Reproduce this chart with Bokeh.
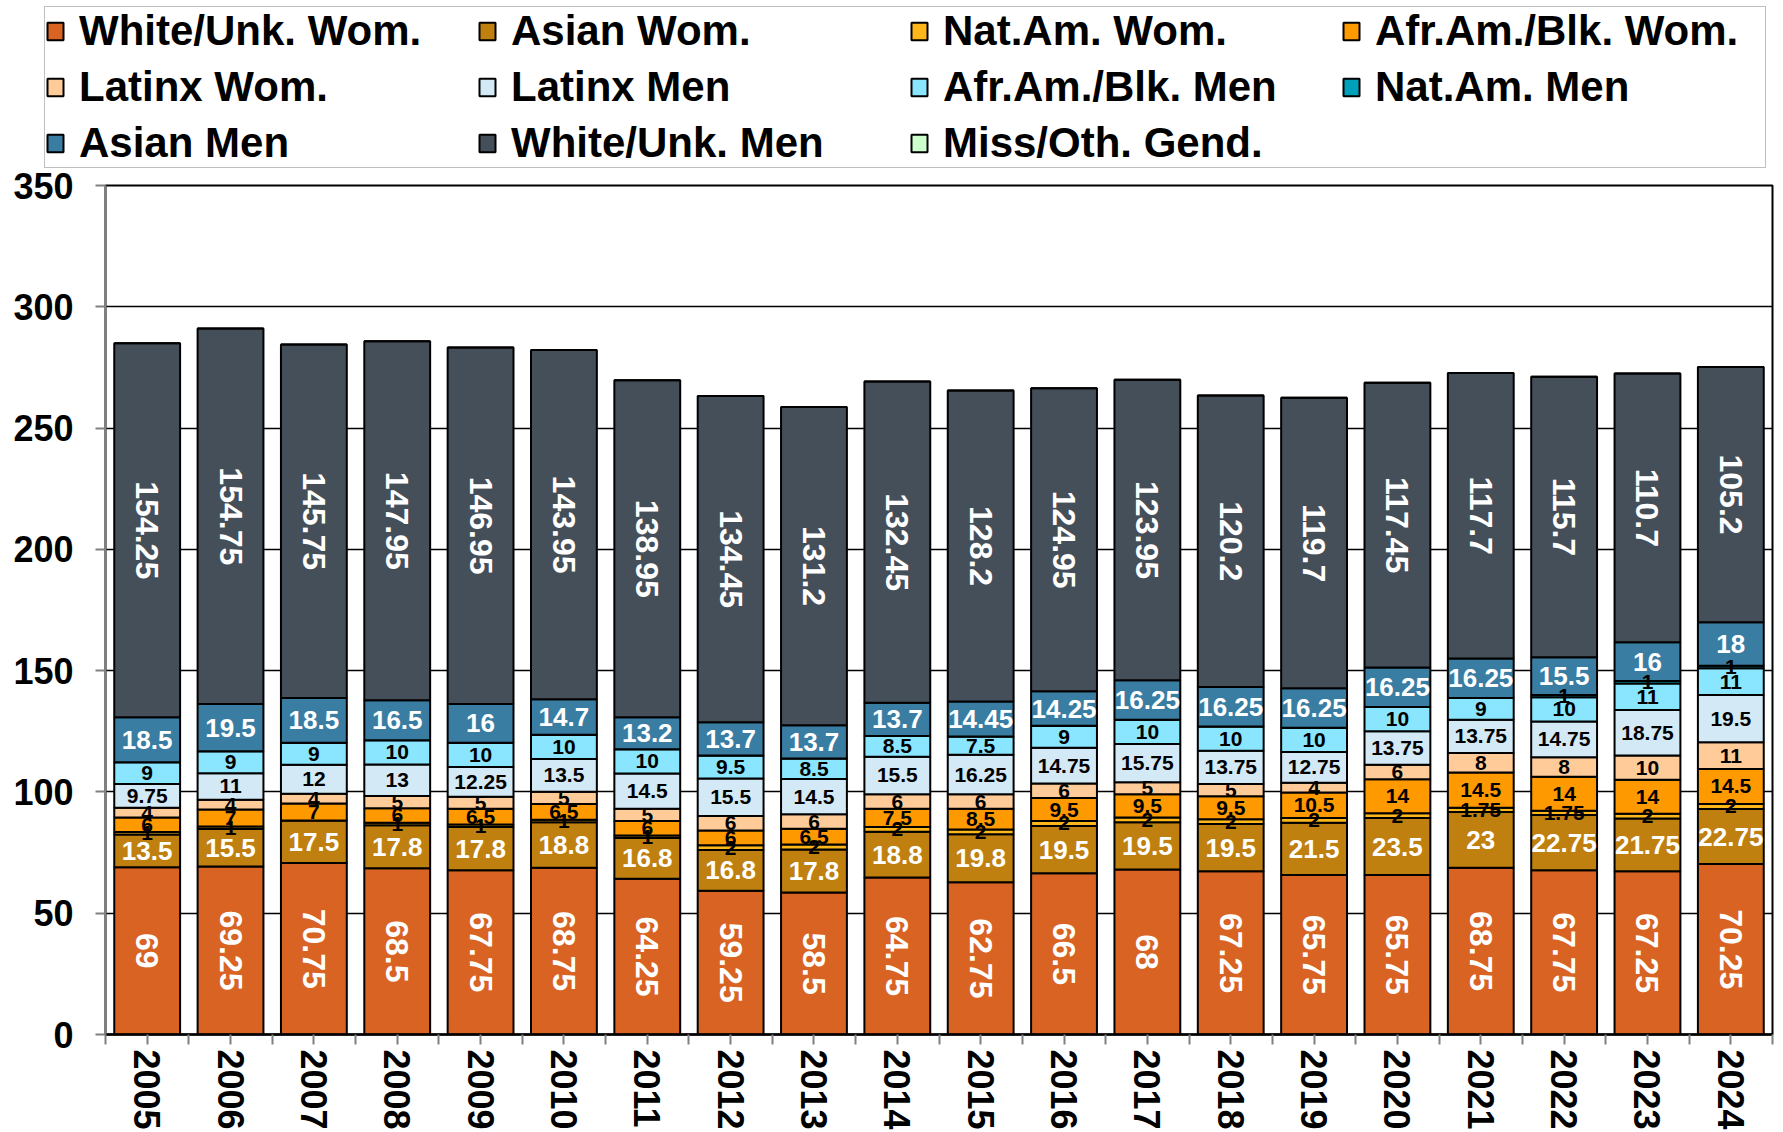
import math
from bokeh.plotting import figure
from bokeh.layouts import column
from bokeh.models import ColumnDataSource, Legend, LegendItem, FixedTicker, Range1d
from bokeh.core.properties import value
from bokeh.embed import file_html
from bokeh.resources import INLINE

years = [str(y) for y in range(2005, 2025)]
white_wom = [69, 69.25, 70.75, 68.5, 67.75, 68.75, 64.25, 59.25, 58.5, 64.75, 62.75, 66.5, 68, 67.25, 65.75, 65.75, 68.75, 67.75, 67.25, 70.25]
asian_wom = [13.5, 15.5, 17.5, 17.8, 17.8, 18.8, 16.8, 16.8, 17.8, 18.8, 19.8, 19.5, 19.5, 19.5, 21.5, 23.5, 23, 22.75, 21.75, 22.75]
natam_wom = [1, 1, 0, 1, 1, 1, 1, 2, 2, 2, 2, 2, 2, 2, 2, 2, 1.75, 1.75, 2, 2]
afram_wom = [6, 7, 7, 6, 6.5, 6.5, 6, 6, 6.5, 7.5, 8.5, 9.5, 9.5, 9.5, 10.5, 14, 14.5, 14, 14, 14.5]
latinx_wom = [4, 4, 4, 5, 5, 5, 5, 6, 6, 6, 6, 6, 5, 5, 4, 6, 8, 8, 10, 11]
latinx_men = [9.75, 11, 12, 13, 12.25, 13.5, 14.5, 15.5, 14.5, 15.5, 16.25, 14.75, 15.75, 13.75, 12.75, 13.75, 13.75, 14.75, 18.75, 19.5]
afram_men = [9, 9, 9, 10, 10, 10, 10, 9.5, 8.5, 8.5, 7.5, 9, 10, 10, 10, 10, 9, 10, 11, 11]
natam_men = [0, 0, 0, 0, 0, 0, 0, 0, 0, 0, 0, 0, 0, 0, 0, 0, 0, 1, 1, 1]
asian_men = [18.5, 19.5, 18.5, 16.5, 16, 14.7, 13.2, 13.7, 13.7, 13.7, 14.45, 14.25, 16.25, 16.25, 16.25, 16.25, 16.25, 15.5, 16, 18]
white_men = [154.25, 154.75, 145.75, 147.95, 146.95, 143.95, 138.95, 134.45, 131.2, 132.45, 128.2, 124.95, 123.95, 120.2, 119.7, 117.45, 117.7, 115.7, 110.7, 105.2]
miss_oth = [0] * 20

series_names = ["White/Unk. Wom.", "Asian Wom.", "Nat.Am. Wom.", "Afr.Am./Blk. Wom.",
                "Latinx Wom.", "Latinx Men", "Afr.Am./Blk. Men", "Nat.Am. Men",
                "Asian Men", "White/Unk. Men", "Miss/Oth. Gend."]
series_values = [white_wom, asian_wom, natam_wom, afram_wom, latinx_wom, latinx_men,
                 afram_men, natam_men, asian_men, white_men, miss_oth]
colors = ["#D86323", "#C0800F", "#FDB71A", "#FF9900", "#FFCC99", "#D3E9F6",
          "#8AE6FF", "#00A0BA", "#3A7DA2", "#454F5A", "#CCFFCC"]
# label style per series: 'rot' = white rotated, 'white' = white horizontal, 'black'
label_style = ["rot", "white", "black", "black", "black", "black", "black", "black",
               "white", "rot", "black"]

FONT = "Liberation Sans"
W = 1783
LEG_H = 172
OVERLAP = 20
xs = list(range(len(years)))
keys = ["s%d" % i for i in range(len(series_names))]
data = {"x": xs}
for k, v in zip(keys, series_values):
    data[k] = v
source = ColumnDataSource(data)

# ---------------- main chart ----------------
p = figure(width=W, height=1132 - LEG_H + OVERLAP, output_backend="svg",
           toolbar_location=None,
           x_range=Range1d(-0.5, len(years) - 0.5), y_range=Range1d(0, 350))
p.margin = (-OVERLAP, 0, 0, 0)
p.min_border = 0
p.min_border_left = 105
p.min_border_right = 11
p.min_border_top = 185 - LEG_H + OVERLAP
p.min_border_bottom = 97
p.outline_line_color = "black"
p.outline_line_width = 2
p.background_fill_color = "white"
p.border_fill_alpha = 0.0

p.xgrid.visible = False
p.ygrid.grid_line_color = "black"
p.ygrid.grid_line_width = 1.5
p.ygrid.ticker = FixedTicker(ticks=[0, 50, 100, 150, 200, 250, 300, 350])

p.yaxis.ticker = FixedTicker(ticks=[0, 50, 100, 150, 200, 250, 300, 350])
p.yaxis.major_label_text_font = FONT
p.yaxis.major_label_text_font_style = "bold"
p.yaxis.major_label_text_font_size = "36px"
p.yaxis.major_label_text_color = "black"
p.yaxis.axis_line_color = "#808080"
p.yaxis.axis_line_width = 2
p.yaxis.major_tick_line_color = "#808080"
p.yaxis.major_tick_line_width = 2
p.yaxis.major_tick_out = 10
p.yaxis.major_tick_in = 0
p.yaxis.minor_tick_line_color = None
p.yaxis.major_label_standoff = 22

p.xaxis.ticker = FixedTicker(ticks=xs, minor_ticks=[i - 0.5 for i in range(len(years) + 1)])
p.xaxis.major_label_overrides = {i: y for i, y in enumerate(years)}
p.xaxis.major_label_orientation = -math.pi / 2
p.xaxis.major_label_text_font = FONT
p.xaxis.major_label_text_font_style = "bold"
p.xaxis.major_label_text_font_size = "36px"
p.xaxis.major_label_text_color = "black"
p.xaxis.axis_line_color = "black"
p.xaxis.axis_line_width = 2.5
p.xaxis.major_tick_line_color = "#808080"
p.xaxis.major_tick_line_width = 2
p.xaxis.major_tick_out = 10
p.xaxis.major_tick_in = 0
p.xaxis.minor_tick_line_color = "#808080"
p.xaxis.minor_tick_line_width = 2
p.xaxis.minor_tick_out = 10
p.xaxis.minor_tick_in = 0
p.xaxis.major_label_standoff = 5

renderers = p.vbar_stack(keys, x="x", width=0.79, source=source, fill_color=colors,
                         line_color="black", line_width=2)

# data labels at segment centres
groups = {"rot": {"x": [], "y": [], "t": []},
          "white": {"x": [], "y": [], "t": []},
          "black": {"x": [], "y": [], "t": []}}
bottoms = [0.0] * len(years)
for vals, style in zip(series_values, label_style):
    for i, v in enumerate(vals):
        if v > 0:
            groups[style]["x"].append(xs[i])
            groups[style]["y"].append(bottoms[i] + v / 2.0)
            groups[style]["t"].append("%g" % v)
        bottoms[i] += v

p.text(x="x", y="y", text="t", source=ColumnDataSource(groups["black"]),
       text_font=value(FONT), text_font_style="bold", text_font_size="21px",
       text_color="black", text_align="center", text_baseline="middle")
p.text(x="x", y="y", text="t", source=ColumnDataSource(groups["white"]),
       text_font=value(FONT), text_font_style="bold", text_font_size="26px",
       text_color="white", text_align="center", text_baseline="middle")
p.text(x="x", y="y", text="t", source=ColumnDataSource(groups["rot"]),
       text_font=value(FONT), text_font_style="bold", text_font_size="32px",
       text_color="white", text_align="center", text_baseline="middle",
       angle=-math.pi / 2)

# ---------------- legend strip ----------------
lg = figure(width=W, height=LEG_H, output_backend="svg", toolbar_location=None,
            x_range=Range1d(0, 1), y_range=Range1d(0, 1),
            x_axis_type=None, y_axis_type=None)
lg.frame_align = False
lg.min_border = 0
lg.outline_line_color = None
lg.grid.visible = False
lg.background_fill_color = "white"
lg.border_fill_color = "white"

items = []
for n, c in zip(series_names, colors):
    # zero-size swatch source hidden behind the legend box, used only for the legend glyph
    r = lg.vbar(x=[0.5], bottom=[0.5], top=[0.5], width=0.001,
                fill_color=c, line_color="black", line_width=2)
    items.append(LegendItem(label=n, renderers=[r]))

legend = Legend(items=items, orientation="horizontal", ncols=4, location=(44, LEG_H - 168))
legend.label_text_font = FONT
legend.label_text_font_style = "bold"
legend.label_text_font_size = "42px"
legend.label_text_color = "black"
legend.glyph_width = 20
legend.glyph_height = 22
legend.label_standoff = 14
legend.label_width = 390
legend.spacing = 8
legend.padding = 0
legend.margin = 0
legend.border_line_color = "#7F7F7F"
legend.border_line_width = 1.5
legend.background_fill_color = "white"
legend.background_fill_alpha = 1.0
lg.add_layout(legend)

layout = column(lg, p, spacing=0)
open("out.html", "w").write(file_html(layout, INLINE))
